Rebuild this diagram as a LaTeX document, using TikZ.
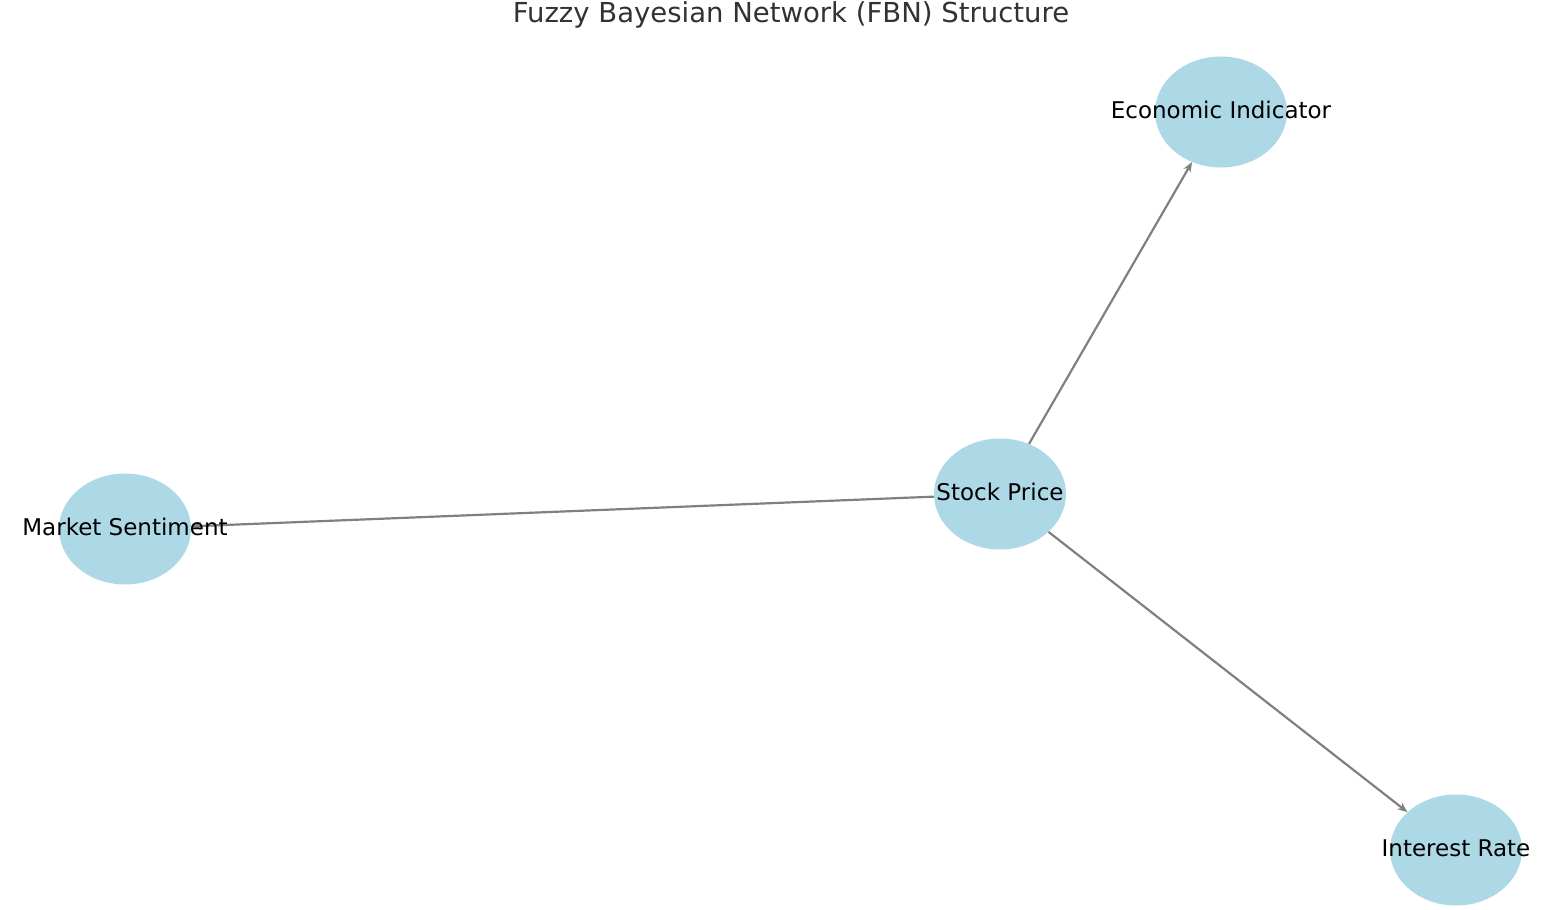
\documentclass[tikz,border=0pt]{standalone}
\usepackage{fontspec}
\setmainfont{DejaVu Sans}
\usetikzlibrary{shapes.geometric,arrows.meta}
\begin{document}
\begin{tikzpicture}[x=1pt,y=-1pt,
  fnode/.style={ellipse,fill={rgb,255:red,173;green,216;blue,230},minimum width=132pt,minimum height=111pt,inner sep=0pt},
  lbl/.style={font=\fontsize{23}{26}\selectfont,text=black},
  edge/.style={draw={rgb,255:red,128;green,128;blue,128},line width=2.2pt,-{Stealth[length=10pt,width=8pt]}}]
\useasboundingbox (0,0) rectangle (1550,910);
\node[font=\fontsize{27.5}{30}\selectfont,text={rgb,255:red,50;green,50;blue,50}] (title) at (791,15) {Fuzzy Bayesian Network (FBN) Structure};
\node[fnode] (ei) at (1221,112) {};
\node[fnode] (sp) at (1000,494) {};
\node[fnode] (ms) at (125,529) {};
\node[fnode] (ir) at (1456,850) {};
\draw[edge] (sp) -- (ei);
\draw[edge] (sp) -- (ms);
\draw[edge] (sp) -- (ir);
\node[lbl] (eil) at (1221,110) {Economic Indicator};
\node[lbl] (spl) at (1000,492) {Stock Price};
\node[lbl] (msl) at (125,527) {Market Sentiment};
\node[lbl] (irl) at (1456,848) {Interest Rate};
\end{tikzpicture}
\end{document}
